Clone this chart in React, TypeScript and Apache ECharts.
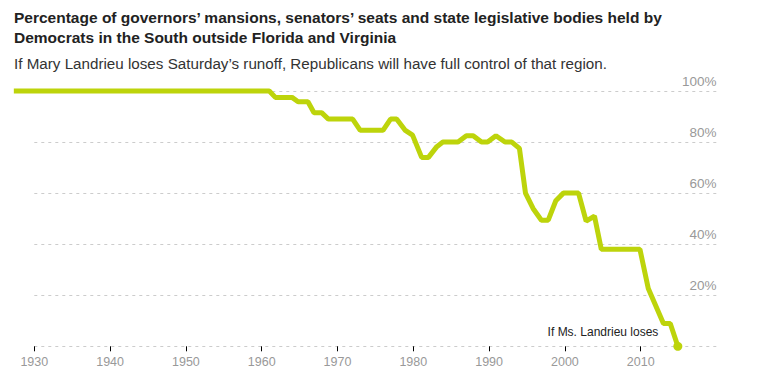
import React, { useEffect, useRef } from "react";
import * as echarts from "echarts";

const titleText =
  "Percentage of governors’ mansions, senators’ seats and state legislative bodies held by\nDemocrats in the South outside Florida and Virginia";
const subtitleText =
  "If Mary Landrieu loses Saturday’s runoff, Republicans will have full control of that region.";
const annotationText = "If Ms. Landrieu loses";

const years = [
  1927.3, 1961.0, 1961.8, 1964.0, 1964.8, 1966.1, 1966.9, 1967.9, 1968.8, 1972.0,
  1973.0, 1976.0, 1977.0, 1977.8, 1978.9, 1979.9, 1981.1, 1982.0, 1983.1, 1983.9,
  1985.9, 1987.0, 1987.9, 1989.0, 1989.8, 1990.9, 1992.1, 1993.0, 1994.0, 1994.8,
  1995.8, 1996.9, 1997.8, 1998.8, 1999.8, 2001.8, 2002.8, 2003.9, 2004.8, 2009.9,
  2011.0, 2013.0, 2013.9, 2014.9,
];
const share = [
  100, 100, 97.5, 97.5, 95.8, 95.8, 91.5, 91.5, 89, 89,
  84.6, 84.6, 89, 89, 84.7, 82.7, 74, 74, 78.2, 80,
  80, 82.5, 82.5, 80, 80, 82.5, 80, 80, 77.5, 60,
  54, 49.4, 49.4, 57, 60, 60, 49, 51, 38, 38,
  22.6, 8.9, 8.9, 0,
];
const xTicks = [1930, 1940, 1950, 1960, 1970, 1980, 1990, 2000, 2010];
const yTicks = [20, 40, 60, 80, 100];
const axisStart = 1930;
const axisEnd = 2020;

export default function App() {
  const ref = useRef<HTMLDivElement>(null);
  useEffect(() => {
    if (!ref.current) return;
    const chart = echarts.init(ref.current, undefined, { renderer: "svg" });
    const last = years.length - 1;
    const gridLeft = 34.3;
    const gridRight = 54.5;
    const pxPerYear = (771 - gridLeft - gridRight) / (axisEnd - axisStart);
    const dataStart = years[0];
    const lineGridLeft = gridLeft - (axisStart - dataStart) * pxPerYear;
    const data = years.map((y, i) =>
      i === last
        ? {
            value: [y, share[i]],
            symbol: "circle",
            symbolSize: 9,
            label: {
              show: true,
              formatter: annotationText,
              position: "left",
              distance: 15,
              offset: [0, -14],
              color: "#222",
              fontSize: 12,
              fontFamily: "Liberation Sans, Arial, sans-serif",
            },
          }
        : { value: [y, share[i]], symbol: "none" }
    );
    chart.setOption({
      animation: false,
      title: [
        {
          text: titleText,
          left: 14,
          top: 7,
          padding: 0,
          textStyle: {
            fontFamily: "Liberation Sans, Arial, sans-serif",
            fontWeight: "bold",
            fontSize: 15.5,
            lineHeight: 20,
            color: "#222",
          },
        },
        {
          text: subtitleText,
          left: 14,
          top: 55,
          padding: 0,
          textStyle: {
            fontFamily: "Liberation Sans, Arial, sans-serif",
            fontWeight: "normal",
            fontSize: 15.2,
            lineHeight: 16,
            color: "#333",
          },
        },
      ],
      grid: [
        { left: gridLeft, right: gridRight, top: 91, bottom: 32.7, containLabel: false },
        { left: lineGridLeft, right: gridRight, top: 91, bottom: 32.7, containLabel: false },
      ],
      xAxis: [
        {
          type: "value",
          gridIndex: 0,
          min: axisStart,
          max: axisEnd,
          interval: 10,
          axisLine: { show: false },
          axisTick: {
            show: true,
            customValues: xTicks,
            length: 5,
            lineStyle: { color: "#000", width: 1 },
          },
          axisLabel: {
            customValues: xTicks,
            color: "#999",
            fontSize: 12.5,
            fontFamily: "Liberation Sans, Arial, sans-serif",
            margin: 9,
            formatter: (v: number) => String(v),
          },
          splitLine: { show: false },
        },
        {
          type: "value",
          gridIndex: 1,
          min: dataStart,
          max: axisEnd,
          show: false,
        },
      ],
      yAxis: [
        {
          type: "value",
          gridIndex: 0,
          min: 0,
          max: 100,
          interval: 20,
          position: "right",
          axisLine: { show: false },
          axisTick: { show: false },
          axisLabel: {
            inside: true,
            customValues: yTicks,
            margin: 0,
            color: "#999",
            fontSize: 13.5,
            fontFamily: "Liberation Sans, Arial, sans-serif",
            verticalAlign: "bottom",
            padding: [0, 0, 3, 0],
            formatter: (v: number) => v + "%",
          },
          splitLine: {
            show: true,
            lineStyle: { color: "#ccc", type: [3, 4], width: 1 },
          },
        },
        {
          type: "value",
          gridIndex: 1,
          min: 0,
          max: 100,
          show: false,
        },
      ],
      series: [
        {
          type: "line",
          xAxisIndex: 1,
          yAxisIndex: 1,
          data,
          clip: false,
          showSymbol: true,
          itemStyle: { color: "#bdd40b" },
          lineStyle: { color: "#bdd40b", width: 5 },
          z: 3,
        },
      ],
    });
    return () => chart.dispose();
  }, []);
  return (
    <div
      ref={ref}
      style={{ position: "fixed", left: 0, top: 0, width: 771, height: 379, background: "#fff" }}
    />
  );
}
